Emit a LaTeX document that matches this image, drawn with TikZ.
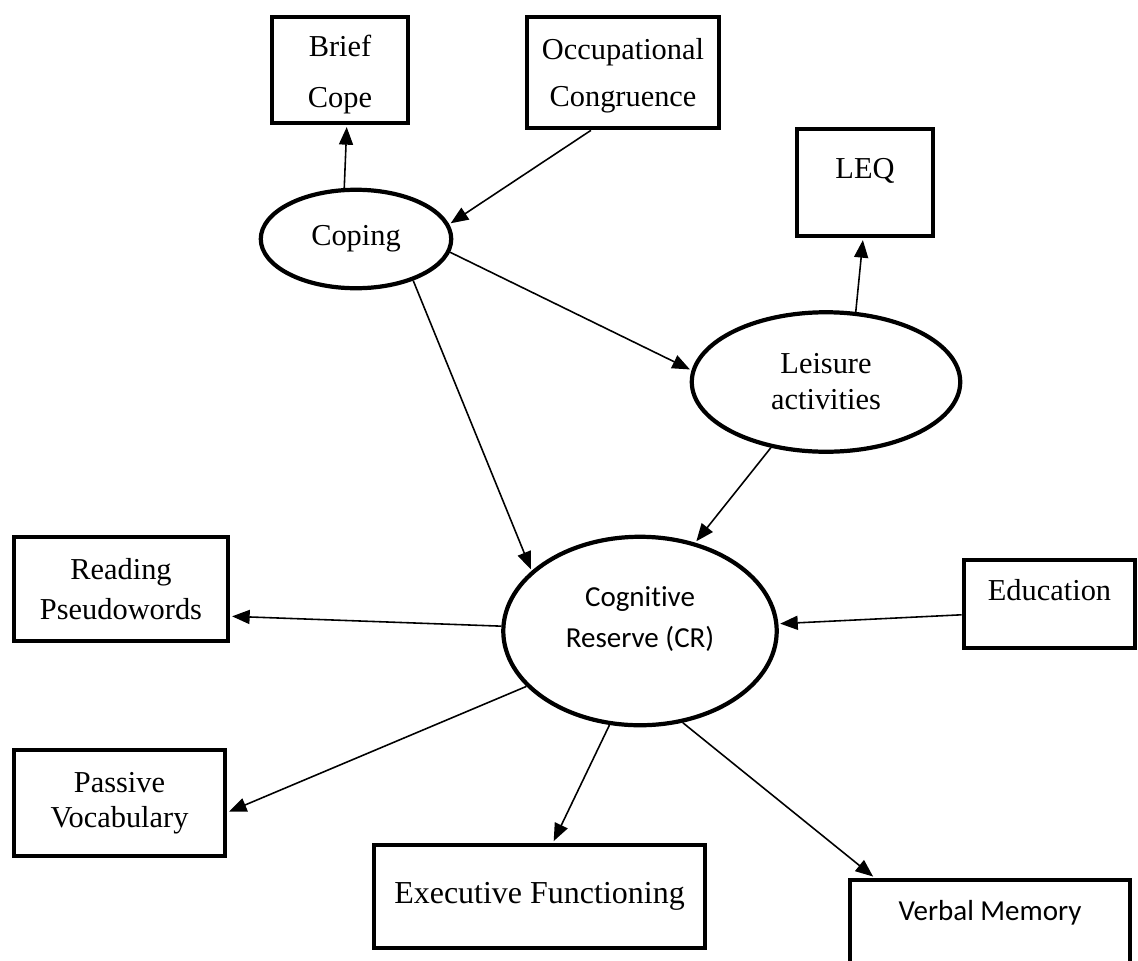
\documentclass[tikz,border=0pt]{standalone}
\usepackage{fontspec}
\setmainfont{Liberation Serif}
\newfontfamily\calfont[Ligatures=NoCommon]{Carlito}
\usetikzlibrary{arrows.meta,shapes.geometric}
\newcommand{\lowstrut}[1]{\rule[-#1]{0pt}{#1}}
\newcommand{\highstrut}[1]{\rule{0pt}{#1}}
\begin{document}
\begin{tikzpicture}[x=0.02cm,y=-0.02cm,
  box/.style={draw,line width=2.4pt,align=center,inner sep=0pt,font=\fontsize{17.3}{24}\selectfont},
  oval/.style={draw,ellipse,line width=2.4pt,align=center,inner sep=0pt,font=\fontsize{17.3}{24}\selectfont},
  conn/.style={-{Triangle[length=10pt,width=8pt]},line width=0.9pt,shorten >=1pt}]
\clip (0,0) rectangle (1138,960);
% latent variables
\node[oval,minimum width=3.81cm,minimum height=1.97cm] (coping) at (356,239) {Coping};
\node[oval,minimum width=5.37cm,minimum height=2.79cm,font=\fontsize{17.3}{20.5}\selectfont] (leisure) at (826,382) {Leisure\\activities};
\node[oval,minimum width=5.47cm,minimum height=3.77cm,font=\calfont\fontsize{16.5}{23.3}\selectfont] (cr) at (640,631) {Cognitive\\Reserve (CR)\lowstrut{15.4pt}};
% observed variables
\node[box,minimum width=2.73cm,minimum height=2.13cm,font=\fontsize{17.3}{29}\selectfont] (brief) at (340,70) {\highstrut{17pt}Brief\\Cope};
\node[box,minimum width=3.85cm,minimum height=2.23cm,font=\fontsize{17.3}{26.7}\selectfont] (occ) at (623,72.5) {\highstrut{16pt}Occupational\\Congruence};
\node[box,minimum width=2.73cm,minimum height=2.15cm] (leq) at (865,182.5) {LEQ\lowstrut{16.5pt}};
\node[box,minimum width=4.29cm,minimum height=2.09cm,font=\fontsize{17.3}{22.8}\selectfont] (reading) at (121,589) {Reading\\Pseudowords};
\node[box,minimum width=4.23cm,minimum height=2.13cm,font=\fontsize{17.3}{20}\selectfont] (passive) at (119.5,803) {Passive\\Vocabulary};
\node[box,minimum width=3.43cm,minimum height=1.77cm] (edu) at (1049.5,604) {Education\lowstrut{16pt}};
\node[box,minimum width=6.63cm,minimum height=2.07cm,font=\fontsize{18.2}{24}\selectfont] (exec) at (539.5,896.5) {Executive Functioning};
\node[box,minimum width=5.61cm,minimum height=2.17cm,font=\calfont\fontsize{16.5}{24}\selectfont] (verbal) at (990,934) {Verbal Memory\lowstrut{27.3pt}};
% paths
\foreach \a/\b in {coping.103/brief.-83,occ.241/coping.9,coping.-8/leisure.175,coping.-36/cr.151,
  leisure.67/leq.-92,leisure.-130/cr.58,edu.187/cr.3,cr.178/reading.-14,
  cr.206/passive.-5,cr.252/exec.76,cr.-65/verbal.154}
  \draw[conn] (\a) -- (\b);
\end{tikzpicture}
\end{document}
